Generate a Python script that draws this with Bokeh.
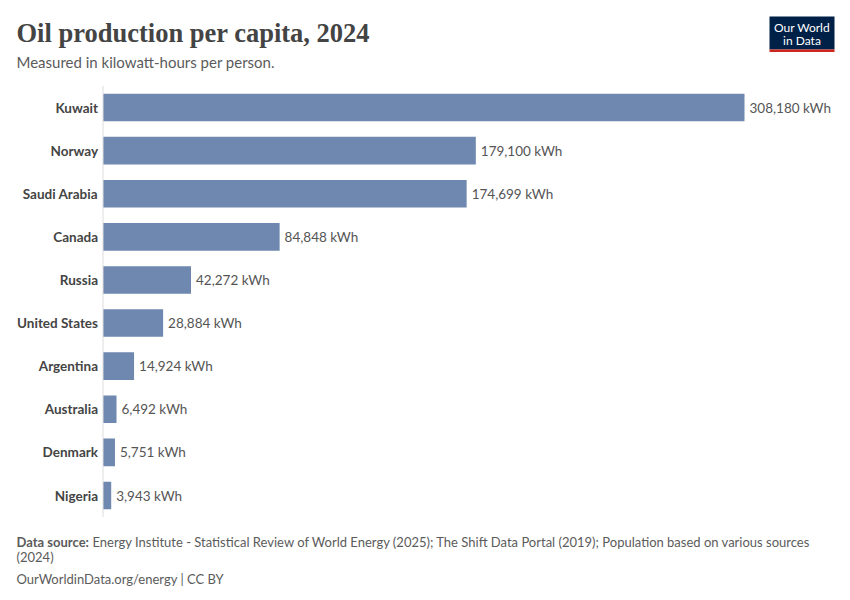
from bokeh.plotting import figure
from bokeh.models import ColumnDataSource, Range1d, Label, BoxAnnotation
from bokeh.core.properties import value
from bokeh.embed import file_html
from bokeh.resources import INLINE

countries = ["Kuwait", "Norway", "Saudi Arabia", "Canada", "Russia",
             "United States", "Argentina", "Australia", "Denmark", "Nigeria"]
values = [308180, 179100, 174699, 84848, 42272, 28884, 14924, 6492, 5751, 3943]
unit = "kWh"

W, H = 840, 592
# pixel layout of the plotting area (figure coordinates)
x0_px, xmax_px = 102.5, 744       # x of value 0 and of the largest value
row0_px, rowN_px = 107, 495       # centres of first and last rows

px_per_x = (xmax_px - x0_px) / max(values)
px_per_row = (rowN_px - row0_px) / (len(countries) - 1)

x_range = Range1d(-x0_px / px_per_x, (W - x0_px) / px_per_x)
y_range = Range1d((len(countries) - 1) + (H - rowN_px) / px_per_row, -row0_px / px_per_row)

src = ColumnDataSource(dict(
    idx=list(range(len(countries))),
    country=countries,
    value=values,
    label=[f"{v:,} {unit}" for v in values],
))

p = figure(width=W, height=H, x_range=x_range, y_range=y_range,
           x_axis_location=None, y_axis_location=None, min_border=0,
           toolbar_location=None, output_backend="svg", outline_line_color=None)
p.grid.visible = False
p.background_fill_color = "white"
p.border_fill_color = "white"

p.hbar(y="idx", left=0, right="value", height=0.64, source=src,
       fill_color="#6e88b0", line_color=None)

# axis line
p.segment(x0=0, x1=0, y0=-0.5, y1=len(countries) - 0.5, line_color="#dddddd", line_width=1)

p.text(x=0, y="idx", text="country", source=src, x_offset=-5,
       text_align="right", text_baseline="middle",
       text_font=value("Lato"), text_font_style="bold", text_font_size="13.5px",
       text_color="#444444")
p.text(x="value", y="idx", text="label", source=src, x_offset=5,
       text_align="left", text_baseline="middle",
       text_font=value("Lato"), text_font_size="13.5px", text_color="#555555")

def sx(px):
    return px

def sy(py):
    return H - py

def add_label(text, x, y, size, color, font="Lato", style="normal", align="left", baseline="middle"):
    p.add_layout(Label(x=sx(x), y=sy(y), x_units="screen", y_units="screen", text=text,
                       text_font=font, text_font_size=size, text_font_style=style,
                       text_color=color, text_align=align, text_baseline=baseline))

add_label("Oil production per capita, 2024", 16, 32, "26.5px", "#444444",
          font="Liberation Serif", style="bold")
add_label("Measured in kilowatt-hours per person.", 16, 61, "15px", "#5b5b5b")

# logo
p.add_layout(BoxAnnotation(left=sx(769), right=sx(834), top=sy(16), bottom=sy(49),
                           left_units="screen", right_units="screen",
                           top_units="screen", bottom_units="screen",
                           fill_color="#002147", fill_alpha=1, line_color=None))
p.add_layout(BoxAnnotation(left=sx(769), right=sx(834), top=sy(49), bottom=sy(51.5),
                           left_units="screen", right_units="screen",
                           top_units="screen", bottom_units="screen",
                           fill_color="#ce261e", fill_alpha=1, line_color=None))
add_label("Our World", 801.5, 26.5, "12px", "white", align="center")
add_label("in Data", 801.5, 39.5, "12px", "white", align="center")

# footer
add_label("Data source:", 16, 541, "13px", "#5b5b5b", style="bold")
add_label("Energy Institute - Statistical Review of World Energy (2025); The Shift Data Portal (2019); Population based on various sources",
          92, 541, "13px", "#5b5b5b")
add_label("(2024)", 16, 556, "13px", "#5b5b5b")
add_label("OurWorldinData.org/energy | CC BY", 16, 578, "13px", "#5b5b5b")

open("out.html", "w").write(file_html(p, INLINE))
